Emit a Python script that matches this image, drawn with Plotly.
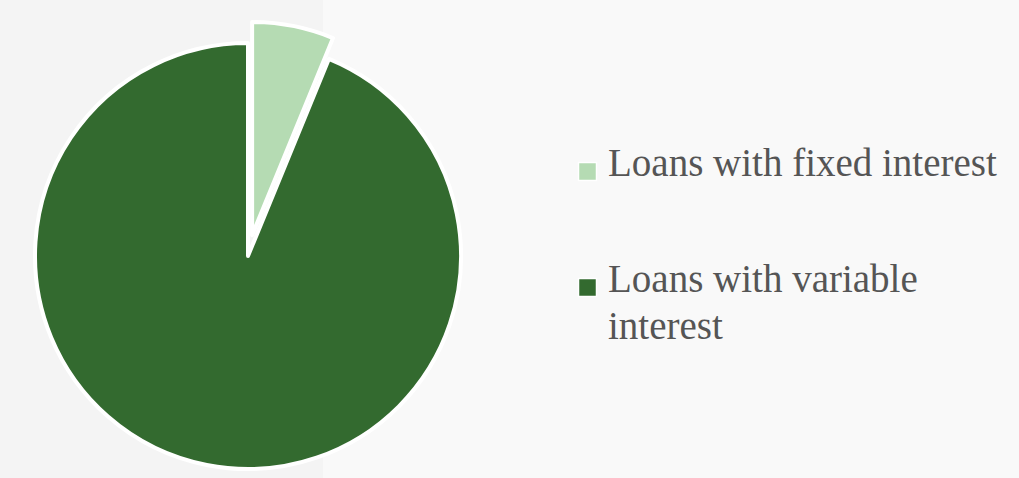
import textwrap
import plotly.graph_objects as go

# Loan portfolio split by interest type (share of loans, %)
labels = ["Loans with fixed interest", "Loans with variable interest"]
values = [6.2, 93.8]
colors = ["#b5dbb3", "#336a2f"]

W, H = 1019, 492
TEXT_COLOR = "#555555"
FONT = "Liberation Serif, Times New Roman, serif"

fig = go.Figure(
    go.Pie(
        labels=labels,
        values=values,
        sort=False,
        direction="clockwise",
        rotation=0,
        pull=[0.1, 0],
        marker=dict(colors=colors, line=dict(color="white", width=4)),
        textinfo="none",
        hoverinfo="label+percent",
        showlegend=False,
        domain=dict(x=[8 / W, 488 / W], y=[(H - 490.3) / H, (H - 21.7) / H]),
    )
)

# Left panel tint behind the pie
shapes = [
    dict(type="rect", xref="paper", yref="paper", x0=0, x1=323 / W, y0=0, y1=1,
         fillcolor="#f4f4f4", line=dict(width=0), layer="below"),
]
annotations = []

# Legend: swatch + wrapped label, one entry per slice
swatch_cy = [171.5, 287.5]
first_baseline = [175.5, 292.0]
line_step = 47.0
font_size = 39
sw = 18
for label, color, cy, base in zip(labels, colors, swatch_cy, first_baseline):
    shapes.append(dict(
        type="rect", xref="paper", yref="paper",
        x0=(587.5 - sw / 2) / W, x1=(587.5 + sw / 2) / W,
        y0=1 - (cy + sw / 2) / H, y1=1 - (cy - sw / 2) / H,
        fillcolor=color, line=dict(color="white", width=1.5), layer="above",
    ))
    for k, line in enumerate(textwrap.wrap(label, 25)):
        centre = base + k * line_step - 0.3375 * font_size
        annotations.append(dict(
            text=line, xref="paper", yref="paper",
            x=606 / W, y=1 - centre / H, xanchor="left", yanchor="middle",
            showarrow=False, font=dict(family=FONT, size=font_size, color=TEXT_COLOR),
        ))

fig.update_layout(
    width=W,
    height=H,
    margin=dict(l=0, r=0, t=0, b=0),
    paper_bgcolor="#f9f9f9",
    plot_bgcolor="#f9f9f9",
    shapes=shapes,
    annotations=annotations,
    showlegend=False,
)

fig.write_html(
    "out.html",
    post_script="document.documentElement.style.overflow='hidden';document.body.style.overflow='hidden';",
)
